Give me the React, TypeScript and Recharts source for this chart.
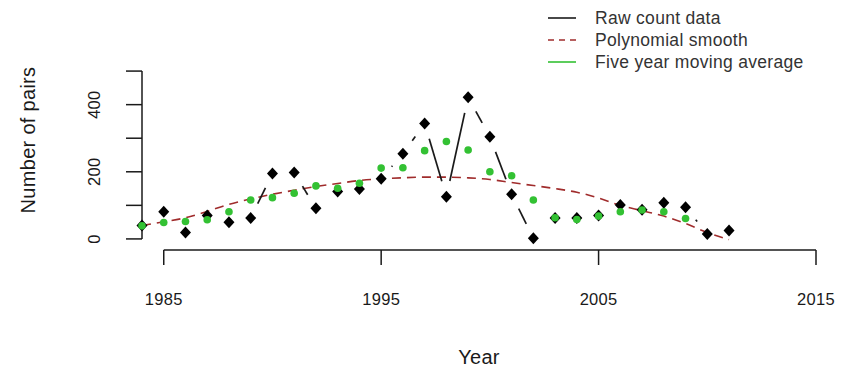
import React from 'react'
import { ComposedChart, XAxis, YAxis, Scatter, Line, ReferenceLine, Label } from 'recharts'

const years = [
  1984, 1985, 1986, 1987, 1988, 1989, 1990, 1991, 1992, 1993, 1994, 1995, 1996, 1997,
  1998, 1999, 2000, 2001, 2002, 2003, 2004, 2005, 2006, 2007, 2008, 2009, 2010, 2011,
]
const rawCounts = [
  40, 81, 19, 70, 50, 62, 195, 198, 91, 141, 149, 179, 254, 344,
  126, 422, 304, 133, 2, 62, 62, 70, 101, 87, 108, 94, 15, 25,
]
const polySmooth = [
  40, 51, 63, 82, 103, 119, 133, 145, 156, 165, 174, 179, 182, 184,
  184, 182, 177, 168, 159, 150, 139, 122, 100, 84, 68, 46, 19, -2,
]
// moving average stops at 2009
const movingAvg = [
  39, 49, 52, 57, 81, 116, 123, 136, 158, 151, 166, 211, 212, 263,
  290, 265, 200, 188, 116, 63, 58, 68, 81, 86, 81, 61,
]
const xTicks = [1985, 1995, 2005, 2015]
const yTicks = [0, 100, 200, 300, 400, 500]
const yLabelled = [0, 200, 400]

const rawData = years.map((year, i) => ({ year, value: rawCounts[i] }))
const polyData = years.map((year, i) => ({ year, value: polySmooth[i] }))
const avgData = movingAvg.map((value, i) => ({ year: years[i], value }))

const FONT = '"Liberation Sans", Arial, sans-serif'
const INK = '#1a1a1a'
const RED = '#a02c2c'
const GREEN = '#33c133'
const GAP = 16

// R type="b": segments between points, with a gap around each point
const gappedLine = (props: any) => {
  const pts = props.points || []
  const segs: React.ReactNode[] = []
  for (let i = 0; i < pts.length - 1; i++) {
    const a = pts[i]
    const b = pts[i + 1]
    const dx = b.x - a.x
    const dy = b.y - a.y
    const len = Math.hypot(dx, dy)
    if (len <= 2 * GAP) continue
    const ux = dx / len
    const uy = dy / len
    segs.push(
      <line
        key={i}
        x1={a.x + ux * GAP}
        y1={a.y + uy * GAP}
        x2={b.x - ux * GAP}
        y2={b.y - uy * GAP}
        stroke={INK}
        strokeWidth={1.7}
      />
    )
  }
  return <g>{segs}</g>
}

const Diamond = (p: any) => (
  <path
    d={`M${p.cx},${p.cy - 6}L${p.cx + 5.5},${p.cy}L${p.cx},${p.cy + 6}L${p.cx - 5.5},${p.cy}Z`}
    fill="#000"
  />
)

const Dot = (p: any) => <circle cx={p.cx} cy={p.cy} r={3.8} fill={GREEN} />

const XTick = (p: any) => (
  <text
    x={p.x}
    y={p.y + 38}
    textAnchor="middle"
    fontSize={16.5}
    letterSpacing={0.3}
    fontFamily={FONT}
    fill={INK}
  >
    {p.payload.value}
  </text>
)

const YTick = (p: any) => {
  if (!yLabelled.includes(p.payload.value)) return <g />
  const x = p.x - 24
  return (
    <text
      x={x}
      y={p.y}
      transform={`rotate(-90, ${x}, ${p.y})`}
      textAnchor="middle"
      fontSize={16.5}
      letterSpacing={0.3}
      fontFamily={FONT}
      fill={INK}
    >
      {p.payload.value}
    </text>
  )
}

const legendItems = [
  { label: 'Raw count data', color: INK, dash: undefined },
  { label: 'Polynomial smooth', color: RED, dash: '6 5' },
  { label: 'Five year moving average', color: GREEN, dash: undefined },
]

export default function App() {
  return (
    <div style={{ position: 'absolute', left: 0, top: 0, width: 849, height: 380, background: '#fff' }}>
      <ComposedChart width={849} height={380} margin={{ top: 60, right: 33, bottom: 10, left: 12 }}>
        <XAxis
          type="number"
          dataKey="year"
          domain={[1984, 2015]}
          ticks={xTicks}
          interval={0}
          axisLine={false}
          tickSize={15}
          tickLine={{ stroke: INK, strokeWidth: 1.5 }}
          tick={<XTick />}
          height={120}
        >
          <Label
            content={({ viewBox }: any) => (
              <text
                x={viewBox.x + viewBox.width / 2}
                y={viewBox.y + 114}
                textAnchor="middle"
                fontSize={20}
                letterSpacing={0.3}
                fontFamily={FONT}
                fill={INK}
              >
                Year
              </text>
            )}
          />
        </XAxis>
        <YAxis
          type="number"
          dataKey="value"
          domain={[-33, 533]}
          ticks={yTicks}
          interval={0}
          axisLine={false}
          tickSize={16}
          tickLine={{ stroke: INK, strokeWidth: 1.5 }}
          tick={<YTick />}
          width={130}
        >
          <Label
            content={() => {
              const cx = 35
              const cy = 140
              return (
                <text
                  x={cx}
                  y={cy}
                  transform={`rotate(-90, ${cx}, ${cy})`}
                  textAnchor="middle"
                  fontSize={20}
                  letterSpacing={0.3}
                  fontFamily={FONT}
                  fill={INK}
                >
                  Number of pairs
                </text>
              )
            }}
          />
        </YAxis>

        <ReferenceLine
          segment={[{ x: 1985, y: -33 }, { x: 2015, y: -33 }]}
          stroke={INK}
          strokeWidth={1.5}
          ifOverflow="visible"
        />
        <ReferenceLine
          segment={[{ x: 1984, y: 0 }, { x: 1984, y: 500 }]}
          stroke={INK}
          strokeWidth={1.5}
          ifOverflow="visible"
        />

        <Scatter
          data={rawData}
          shape={Diamond}
          line={gappedLine}
          lineType="joint"
          isAnimationActive={false}
        />
        <Line
          data={polyData}
          dataKey="value"
          type="monotone"
          stroke={RED}
          strokeWidth={1.6}
          strokeDasharray="9 6"
          dot={false}
          activeDot={false}
          isAnimationActive={false}
        />
        <Scatter data={avgData} shape={Dot} isAnimationActive={false} />
      </ComposedChart>

      <div
        style={{
          position: 'absolute',
          left: 545,
          top: 7,
          fontFamily: FONT,
          fontSize: 17.5,
          letterSpacing: 0.3,
          color: '#333',
        }}
      >
        {legendItems.map((item) => (
          <div key={item.label} style={{ display: 'flex', alignItems: 'center', height: 22 }}>
            <svg width={40} height={22}>
              <line
                x1={3}
                y1={11}
                x2={31}
                y2={11}
                stroke={item.color}
                strokeWidth={1.6}
                strokeDasharray={item.dash}
              />
            </svg>
            <span style={{ marginLeft: 10 }}>{item.label}</span>
          </div>
        ))}
      </div>
    </div>
  )
}
